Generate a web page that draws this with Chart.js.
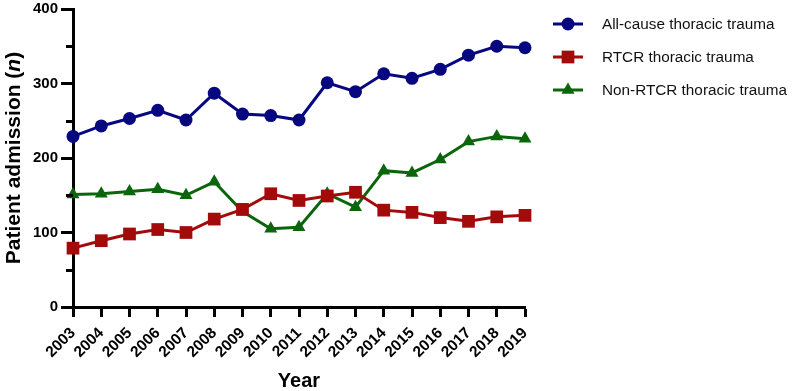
<!DOCTYPE html>
<html>
<head>
<meta charset="utf-8">
<script src="https://cdn.jsdelivr.net/npm/chart.js@4/dist/chart.umd.min.js"></script>
<style>
    html, body { margin: 0; padding: 0; background: #fff; }
    #chart { display: block; }
</style>
</head>
<body>
<canvas id="chart" width="796" height="391"></canvas>
<script>
// 연도 / 시리즈 데이터
const years = ['2003', '2004', '2005', '2006', '2007', '2008', '2009', '2010', '2011',
               '2012', '2013', '2014', '2015', '2016', '2017', '2018', '2019'];
const allCause = [229, 243, 253, 264, 251, 287, 259, 257, 251, 301, 289, 313, 307, 319, 338, 350, 348];
const rtcr = [79, 89, 98, 104, 100, 118, 131, 152, 143, 149, 154, 130, 127, 120, 115, 121, 123];
const nonRtcr = [151, 152, 155, 158, 150, 168, 128, 105, 107, 152, 134, 183, 180, 198, 222, 229, 226];
const seriesNames = ['All-cause thoracic trauma', 'RTCR thoracic trauma', 'Non-RTCR thoracic trauma'];
const yMin = 0;
const yMax = 400;
const yMajorStep = 100;
const yMinorStep = 50;

const FONT = "'Liberation Sans', Arial, Helvetica, sans-serif";
const colors = ['#07077f', '#a30b0b', '#0b660b'];
const shapes = ['circle', 'rect', 'triangle'];
const radii = [6.5, 9, 7.5];

function makeDataset(i, values) {
    return {
        label: seriesNames[i],
        data: values,
        borderColor: colors[i],
        backgroundColor: colors[i],
        borderWidth: 3,
        pointStyle: shapes[i],
        pointRadius: radii[i],
        pointBorderWidth: 0,
        pointBackgroundColor: colors[i],
        tension: 0,
        clip: false
    };
}

// 마커 직접 그리기 (범례용)
function drawMarker(ctx, shape, x, y, r, color) {
    ctx.fillStyle = color;
    ctx.beginPath();
    if (shape === 'circle') {
        ctx.arc(x, y, r, 0, Math.PI * 2);
    } else if (shape === 'rect') {
        const s = r * Math.SQRT1_2;
        ctx.rect(x - s, y - s, 2 * s, 2 * s);
    } else {
        for (let k = 0; k < 3; k++) {
            const a = k * 2 * Math.PI / 3;
            const px = x + Math.sin(a) * r;
            const py = y - Math.cos(a) * r;
            if (k === 0) ctx.moveTo(px, py); else ctx.lineTo(px, py);
        }
        ctx.closePath();
    }
    ctx.fill();
}

// 축 제목, 보조 눈금, 범례
const decorPlugin = {
    id: 'decor',
    afterDraw(chart) {
        const ctx = chart.ctx;
        const area = chart.chartArea;
        const yScale = chart.scales.y;
        ctx.save();

        // 보조 눈금 (50 단위)
        ctx.strokeStyle = '#000';
        ctx.lineWidth = 3;
        for (let v = yMin + yMinorStep; v < yMax; v += yMajorStep) {
            const py = Math.round(yScale.getPixelForValue(v)) + 0.5;
            ctx.beginPath();
            ctx.moveTo(area.left - 7, py);
            ctx.lineTo(area.left, py);
            ctx.stroke();
        }

        // y축 제목 (n 은 이탤릭)
        const parts = [
            { t: 'Patient admission (', f: 'bold 21px ' + FONT },
            { t: 'n', f: 'italic bold 21px ' + FONT },
            { t: ')', f: 'bold 21px ' + FONT }
        ];
        let total = 0;
        parts.forEach(p => { ctx.font = p.f; p.w = ctx.measureText(p.t).width; total += p.w; });
        ctx.translate(14, (area.top + area.bottom) / 2);
        ctx.rotate(-Math.PI / 2);
        ctx.fillStyle = '#000';
        ctx.textBaseline = 'middle';
        ctx.textAlign = 'left';
        let cx = -total / 2;
        parts.forEach(p => { ctx.font = p.f; ctx.fillText(p.t, cx, 0); cx += p.w; });
        ctx.setTransform(1, 0, 0, 1, 0, 0);

        // x축 제목
        ctx.font = 'bold 20px ' + FONT;
        ctx.textAlign = 'center';
        ctx.textBaseline = 'middle';
        ctx.fillText('Year', (area.left + area.right) / 2, 381);

        // 범례
        ctx.font = '15.3px ' + FONT;
        ctx.textAlign = 'left';
        seriesNames.forEach((name, i) => {
            const ly = 24 + i * 33;
            ctx.strokeStyle = colors[i];
            ctx.lineWidth = 3;
            ctx.beginPath();
            ctx.moveTo(553, ly);
            ctx.lineTo(583, ly);
            ctx.stroke();
            drawMarker(ctx, shapes[i], 568, ly, radii[i], colors[i]);
            ctx.fillStyle = '#111';
            ctx.fillText(name, 602, ly + 1);
        });
        ctx.restore();
    }
};

const ctxEl = document.getElementById('chart');
new Chart(ctxEl, {
    type: 'line',
    data: {
        labels: years,
        datasets: [
            makeDataset(0, allCause),
            makeDataset(1, rtcr),
            makeDataset(2, nonRtcr)
        ]
    },
    options: {
        responsive: false,
        animation: false,
        events: [],
        layout: {
            padding: { left: 0, top: 7, right: 271, bottom: 0 }
        },
        plugins: {
            legend: { display: false },
            tooltip: { enabled: false }
        },
        scales: {
            x: {
                type: 'category',
                offset: false,
                afterFit: function(scale) {
                    scale.height = 84;
                    scale.paddingLeft = 0;
                    scale.paddingRight = 0;
                },
                border: { display: true, color: '#000', width: 3 },
                grid: {
                    drawOnChartArea: false,
                    drawTicks: true,
                    tickLength: 10,
                    tickWidth: 3,
                    tickColor: '#000'
                },
                ticks: {
                    autoSkip: false,
                    minRotation: 45,
                    maxRotation: 45,
                    padding: 7,
                    color: '#000',
                    font: { family: FONT, size: 15.5, weight: 'bold' }
                }
            },
            y: {
                min: yMin,
                max: yMax,
                afterFit: function(scale) {
                    scale.width = 73;
                    scale.paddingTop = 0;
                    scale.paddingBottom = 0;
                },
                border: { display: true, color: '#000', width: 3 },
                grid: {
                    drawOnChartArea: false,
                    drawTicks: true,
                    tickLength: 12,
                    tickWidth: 3,
                    tickColor: '#000'
                },
                ticks: {
                    stepSize: yMajorStep,
                    padding: 3,
                    color: '#000',
                    font: { family: FONT, size: 15, weight: 'bold' }
                }
            }
        }
    },
    plugins: [decorPlugin]
});
</script>
</body>
</html>
